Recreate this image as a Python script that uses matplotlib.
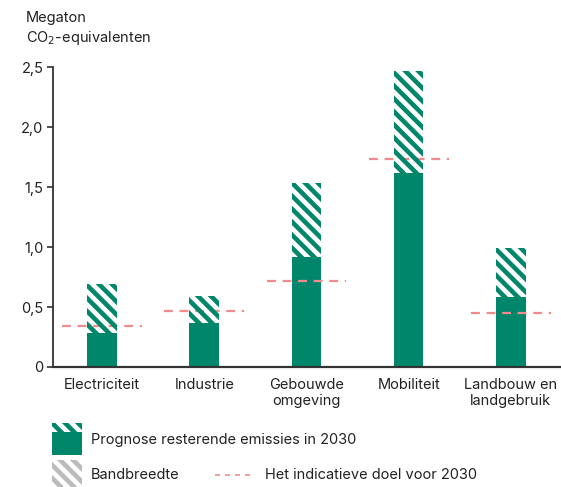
import numpy as np
import matplotlib.pyplot as plt
from matplotlib.patches import Rectangle
from matplotlib.lines import Line2D
from matplotlib.transforms import IdentityTransform

plt.rcParams['font.family'] = ['Inter', 'DejaVu Sans']

# data (Megaton CO2-equivalenten)
sectors = ['Electriciteit', 'Industrie', 'Gebouwde\nomgeving', 'Mobiliteit', 'Landbouw en\nlandgebruik']
prognose = [0.28, 0.37, 0.92, 1.62, 0.58]
bovengrens = [0.69, 0.59, 1.53, 2.47, 0.99]
doel = [0.34, 0.47, 0.72, 1.73, 0.45]
yticks = [0, 0.5, 1.0, 1.5, 2.0, 2.5]
yticklabels = ['0', '0,5', '1,0', '1,5', '2,0', '2,5']

green = '#00876B'
pink = '#F28C8C'
text_c = '#222222'
axis_c = '#333333'
FS = 10.5

W, H = 561, 487
fig = plt.figure(figsize=(W / 100, H / 100), dpi=100)
ax = fig.add_axes([53 / W, 120 / H, 508 / W, 300 / H])
ax.set_xlim(-0.479, 4.49)
ax.set_ylim(0, 2.5)


def stripes(x0, y0, w, h, color, period=13, lw=3.3, zorder=2):
    # diagonal stripes (top-left to bottom-right) in pixel coords, clipped to the box
    clip = Rectangle((x0, y0), w, h, transform=IdentityTransform(), facecolor='none', edgecolor='none')
    fig.add_artist(clip)
    xa, xb = x0 - h - 5, x0 + w + h + 5
    c = x0 + y0 - period * 0.3
    while c < x0 + w + y0 + h + period:
        ln = Line2D([xa, xb], [c - xa, c - xb], transform=IdentityTransform(),
                    color=color, linewidth=lw, solid_capstyle='butt', zorder=zorder)
        ln.set_clip_path(clip)
        fig.add_artist(ln)
        c += period


x = np.arange(len(sectors))
bw = 0.29
ax.bar(x, prognose, width=bw, color=green, linewidth=0)
for xi, lo, hi in zip(x, prognose, bovengrens):
    (px0, py0), (px1, py1) = ax.transData.transform([(xi - bw / 2, lo), (xi + bw / 2, hi)])
    stripes(px0, py0, px1 - px0, py1 - py0, green)
ax.hlines(doel, x - 0.39, x + 0.39, colors=pink, linestyles=(0, (4, 3)), linewidth=1.6, zorder=5)

ax.set_xticks(x)
ax.set_xticklabels(sectors, fontsize=FS, color=text_c, va='top')
ax.set_yticks(yticks)
ax.set_yticklabels(yticklabels, fontsize=FS, color=text_c)
ax.tick_params(axis='x', length=0, pad=8)
ax.tick_params(axis='y', length=4, width=1.2, pad=3, color=axis_c)
for s in ['top', 'right']:
    ax.spines[s].set_visible(False)
ax.spines['left'].set_linewidth(1.3)
ax.spines['left'].set_color(axis_c)
ax.spines['bottom'].set_linewidth(1.6)
ax.spines['bottom'].set_color(axis_c)

fig.text(26 / W, 1 - 18 / H, 'Megaton', fontsize=FS, color=text_c, va='center')
fig.text(26 / W, 1 - 38 / H, 'CO$_2$-equivalenten', fontsize=FS, color=text_c, va='center')

# legend drawn by hand (pixel coords, origin bottom-left)
fig.add_artist(Rectangle((52, H - 455), 30, 23, transform=IdentityTransform(),
                         color=green, linewidth=0))
stripes(52, H - 432, 30, 9, green)
stripes(52, 0, 30, 27, '#BBBBBB')
fig.text(91 / W, 1 - 440 / H, 'Prognose resterende emissies in 2030', fontsize=FS,
         color=text_c, va='center')
fig.text(91 / W, 1 - 475 / H, 'Bandbreedte', fontsize=FS, color=text_c, va='center')
fig.add_artist(Line2D([215 / W, 251 / W], [1 - 475 / H] * 2, transform=fig.transFigure,
                      color=pink, linestyle=(0, (3, 3)), linewidth=1.2))
fig.text(265 / W, 1 - 475 / H, 'Het indicatieve doel voor 2030', fontsize=FS,
         color=text_c, va='center')

fig.savefig('out.png', dpi=100)
